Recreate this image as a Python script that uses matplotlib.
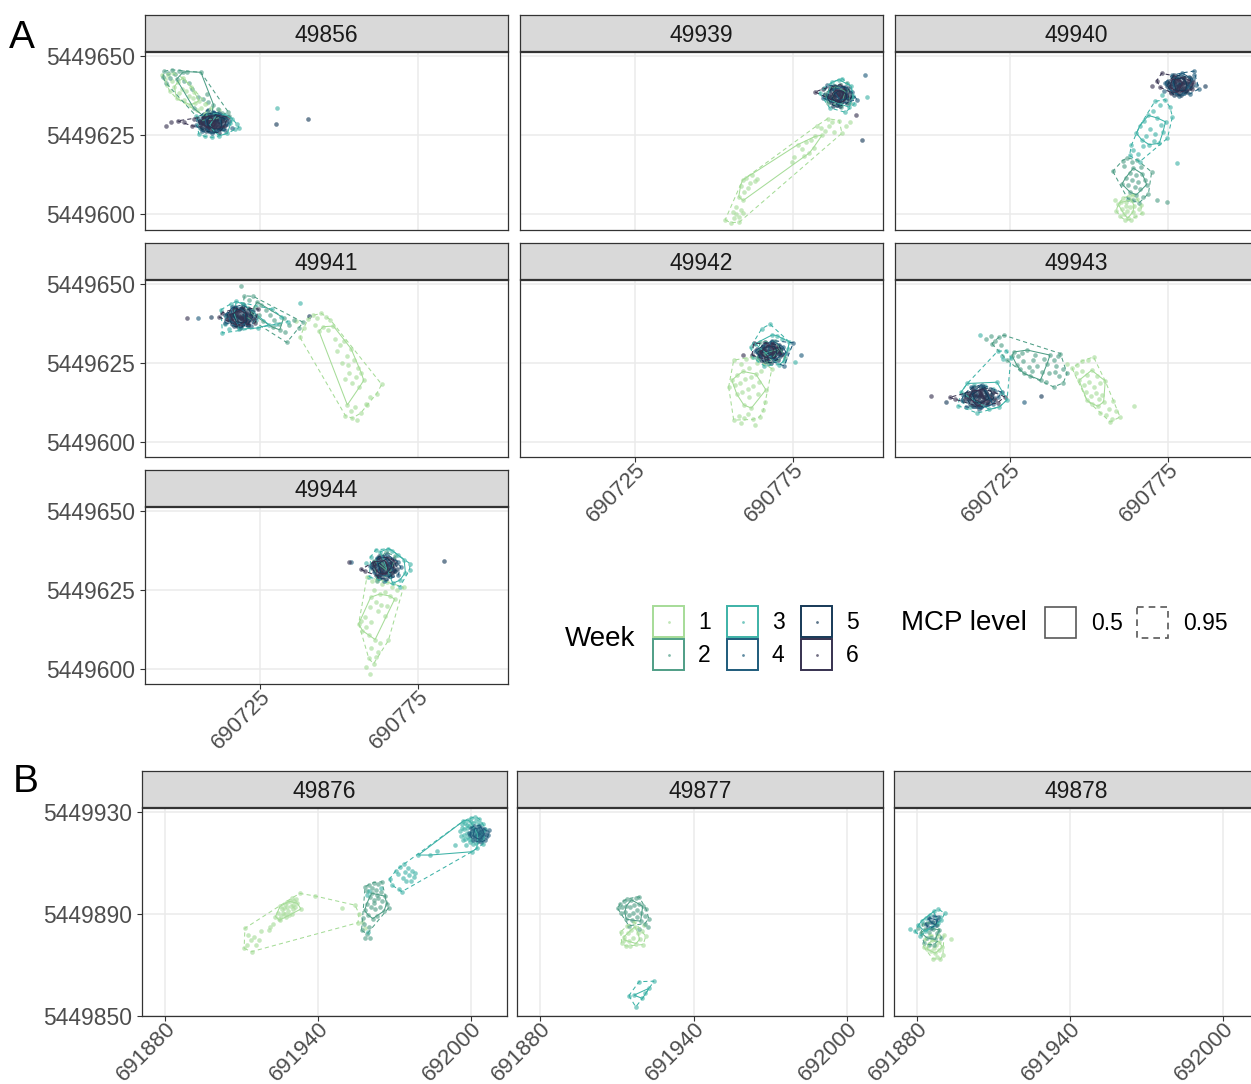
import numpy as np
import matplotlib
matplotlib.use("Agg")
import matplotlib.pyplot as plt
from matplotlib.patches import Rectangle, Polygon

plt.rcParams["font.family"] = ["Liberation Sans", "DejaVu Sans"]

FIG_W, FIG_H = 1251, 1084

WEEKS = [1, 2, 3, 4, 5, 6]
WEEK_COLORS = ["#a6dc98", "#4f9e86", "#3db2a7", "#1e5b7b", "#163957", "#36314f"]
MCP_LEVELS = [0.5, 0.95]

# Fixes are stored as metre offsets from a local origin (UTM easting, northing)
ORIGIN_A = (690700, 5449600)
ORIGIN_B = (691900, 5449850)

# ---------------------------------------------------------------- group A
f49856_w1 = [(-6.0,44.0),(-5.2,42.6),(-4.1,43.8),(-3.0,42.1),(-4.6,40.9),(-2.2,40.3),(-1.0,41.8),(0.2,39.6),
             (-0.8,38.2),(1.4,38.9),(2.5,37.4),(1.0,36.2),(3.6,36.8),(4.4,35.1),(2.8,34.6),(5.6,35.9),(6.3,33.7),
             (7.5,34.8),(8.1,32.6),(9.4,33.4),(10.6,31.8),(5.0,32.9),(3.2,40.2),(0.5,43.0),(-2.6,44.6),(-3.7,38.9),
             (6.8,31.5),(11.8,33.0),(-1.5,36.6),(4.0,38.5)]
f49856_w2 = [(-5.5,45.1),(-4.2,44.5),(-3.1,45.6),(-2.0,44.2),(-0.8,45.3),(0.5,44.8),(1.8,45.0),(-5.8,43.2),
             (-3.6,42.9),(-1.5,42.6),(0.9,42.0),(-4.9,41.5),(2.5,41.3),(3.4,39.4),(5.2,37.0),(6.9,36.4),(8.6,35.5),
             (10.2,34.6),(11.5,33.2),(12.8,31.9),(13.9,30.6),(14.8,32.4),(9.7,32.1),(7.3,30.8),(11.2,30.2),(8.0,38.0),
             (6.2,44.8),(15.2,31.0),(4.0,33.4),(6.0,29.6)]
f49856_w3 = [(4.8,30.9),(6.0,27.2),(5.5,25.4),(7.4,24.6),(9.8,24.3),(12.1,24.8),(14.6,25.6),(16.9,26.8),
             (17.6,28.4),(16.2,30.2),(14.0,31.4),(11.5,31.8),(8.3,31.6),(13.2,27.0),(10.4,26.2),(15.5,28.9),
             (7.0,29.0),(18.3,27.4),(12.8,29.8),(9.0,28.2),(30.4,33.7)]
f49856_w4 = [(8.8,28.9),(10.9,29.4),(7.6,29.8),(12.3,28.6),(9.6,31.0),(6.2,28.8),(13.6,30.8),(11.2,26.5),
             (8.1,26.8),(14.6,28.4),(5.2,30.4),(10.1,32.2),(7.3,31.7),(12.9,27.2),(9.7,25.6),(6.6,26.2),(13.9,26.6),
             (15.2,29.6),(4.6,28.1),(11.8,32.0),(8.4,33.0),(16.0,27.4)]
f49856_w5 = [(9.5,28.8),(8.2,29.5),(10.8,28.1),(7.1,28.4),(11.9,29.3),(9.0,30.6),(10.2,27.0),(6.4,29.9),
             (12.8,28.0),(8.6,27.3),(11.1,30.2),(7.5,30.9),(9.9,29.8),(13.3,29.5),(5.8,28.3),(8.9,26.4),(10.6,31.2),
             (12.2,26.9),(7.0,27.0),(11.6,27.7),(8.0,31.5),(9.4,27.8),(6.8,30.6),(12.6,30.6),(10.0,26.3),(5.5,29.6),
             (13.8,28.2),(8.4,28.2),(10.4,29.1),(7.8,26.2),(11.4,31.4),(14.2,29.9),(6.1,27.2),(9.2,31.8),(12.0,25.8),
             (9.7,29.4),(8.5,28.6),(10.9,29.7),(7.9,29.9),(11.3,28.5),(9.1,28.0),(10.5,27.7),(8.7,30.3),(12.4,29.1),
             (6.9,28.9),(13.1,30.3),(7.6,27.5),(30.1,28.6),(40.1,30.0)]
f49856_w6 = [(-4.9,27.9),(-3.3,29.2),(-1.2,29.5),(3.5,27.9),(4.1,30.0),(1.0,29.0),(9.0,29.6),(10.6,28.0),
             (7.9,28.1),(11.7,30.4),(14.8,30.6),(12.4,27.3),(8.6,29.2),(10.2,28.4),(9.8,30.2),(7.4,29.4),(11.0,29.0),
             (8.2,27.6),(12.0,28.6),(9.2,27.2),(10.8,30.8),(6.6,28.6),(13.0,29.4),(8.8,31.0),(11.6,27.2),(7.2,30.4),
             (10.0,29.4),(9.4,28.2),(12.6,31.2),(6.0,29.2),(13.6,27.8),(8.0,30.0)]

f49939_w1 = [(53.5,-1.7),(55.2,-2.6),(56.4,-1.2),(57.0,0.2),(57.9,-0.9),(58.4,1.4),(56.8,2.3),(59.1,0.5),
             (58.0,-2.4),(55.9,0.8),(59.0,10.8),(60.2,11.6),(61.4,9.8),(62.8,10.4),(60.6,8.4),(59.6,7.2),
             (63.7,11.2),(58.4,9.1),(61.9,12.3),(57.8,5.6),(59.2,4.4),(76.5,22.0),(77.8,20.6),(79.0,22.8),
             (80.2,19.4),(78.4,18.3),(81.5,21.1),(75.4,18.0),(74.6,16.5),(80.8,23.6),(82.6,28.0),(83.9,27.3),
             (85.1,26.4),(84.2,25.0),(86.5,27.8),(82.0,24.6),(88.0,26.0),(87.2,29.0),(89.6,29.6),(91.8,27.9),
             (90.5,25.6),(92.9,29.0),(86.0,30.2)]
f49939_w2 = [(86.0,35.2),(91.5,38.8),(88.2,40.6),(93.0,35.0),(85.0,38.0),(90.2,34.0),(87.5,37.2),(92.2,41.5)]
f49939_w3 = [(84.8,39.8),(94.0,37.4),(89.6,42.5),(86.6,33.6),(91.0,36.2),(93.4,40.4),(88.0,35.6),(92.8,33.8),
             (85.6,36.4),(90.6,42.8),(87.2,41.6),(94.4,34.8),(91.6,32.2),(83.4,38.2),(98.5,36.9)]
f49939_w4 = [(97.7,43.8),(88.4,38.6),(90.8,37.8),(86.8,36.0),(92.5,36.6),(89.0,34.6),(85.8,40.8),(93.6,38.6),
             (87.6,39.4),(91.4,40.2),(84.4,36.8),(95.2,36.2),(89.8,36.0),(91.8,39.4)]
f49939_w5 = [(89.5,37.2),(88.2,38.1),(90.8,36.4),(87.0,37.0),(91.9,37.8),(89.0,39.4),(90.2,35.3),(86.4,38.6),
             (92.8,36.3),(88.5,35.8),(91.1,39.0),(87.6,39.8),(89.9,38.6),(93.2,38.2),(85.8,36.6),(88.8,34.5),
             (90.6,40.3),(92.1,35.0),(87.0,35.4),(91.6,36.9),(88.0,40.6),(89.4,36.2),(86.8,39.2),(92.5,39.7),
             (90.0,34.2),(85.6,37.8),(93.6,37.0),(88.4,37.0),(90.4,37.9),(87.8,34.3),(89.2,37.8),(90.1,36.6),
             (88.0,37.4),(91.2,38.2),(89.6,39.0),(87.3,36.4),(92.0,36.6),(88.9,35.6),(90.7,38.8),(86.2,37.4),
             (96.7,23.4)]
f49939_w6 = [(82.0,38.6),(95.1,31.3),(84.6,39.6),(89.2,38.0),(91.2,38.4),(87.4,36.2),(90.0,40.9),(89.0,37.6),
             (90.4,36.8),(88.0,36.6),(91.6,37.4),(89.8,38.8),(88.6,39.2),(90.8,35.6),(87.4,38.0),(92.2,38.6),
             (89.2,35.4),(86.4,37.2),(91.0,40.0),(88.4,38.4),(90.2,37.2),(87.8,35.8),(92.6,37.0),(89.6,36.0),
             (86.8,39.8)]

f49940_w1 = [(59.2,3.2),(60.4,1.8),(61.6,3.9),(62.8,2.4),(63.9,0.8),(61.0,0.2),(59.8,-0.6),(62.2,-1.2),
             (64.6,-0.4),(65.8,1.6),(63.4,4.6),(60.8,5.2),(58.6,1.2),(66.4,3.0),(62.0,1.2),(64.2,2.8),(61.4,-1.8),
             (63.2,-1.6),(65.2,4.8),(60.0,3.8),(62.6,5.8),(58.2,4.4),(64.0,6.2),(66.8,0.4),(61.8,2.6)]
f49940_w2 = [(62.0,17.8),(63.5,16.4),(65.2,17.2),(61.2,15.2),(64.0,14.6),(66.4,15.0),(62.8,13.0),(64.8,12.4),
             (66.8,12.8),(61.6,11.6),(63.6,10.8),(65.6,10.2),(67.6,11.0),(62.4,9.2),(64.4,8.6),(66.2,8.0),
             (68.2,9.4),(63.0,7.0),(65.0,6.2),(67.0,5.4),(63.8,4.6),(65.8,3.6),(62.2,5.0),(68.8,6.6),(60.4,9.6),
             (69.8,13.4),(57.5,13.6),(74.8,3.8),(71.4,4.6),(60.6,17.0)]
f49940_w3 = [(66.0,27.8),(67.4,29.6),(68.8,31.2),(70.2,32.6),(71.6,30.4),(72.8,28.2),(74.2,29.2),(73.4,26.0),
             (71.0,25.4),(69.4,27.0),(68.0,24.8),(66.6,23.6),(70.4,23.0),(72.2,22.4),(74.8,24.0),(67.2,21.6),
             (65.0,25.6),(64.0,20.4),(62.8,18.6),(65.4,19.0),(63.4,21.8),(66.0,16.6),(72.6,34.6),(74.0,36.2),
             (75.6,33.8),(73.0,37.6),(76.4,30.8),(77.7,16.1),(70.8,35.6),(69.0,22.0)]
f49940_w4 = [(78.0,41.2),(80.2,41.8),(76.5,42.2),(81.4,40.2),(78.8,43.6),(75.2,39.6),(82.8,42.6),(80.0,38.4),
             (77.0,38.8),(83.8,40.8),(74.0,41.4),(79.4,44.6),(76.2,43.8),(82.0,38.0),(78.6,37.4),(73.8,39.0),
             (83.2,44.0),(84.8,39.6),(83.2,45.2)]
f49940_w5 = [(78.5,40.8),(77.2,41.6),(79.8,40.0),(76.0,40.4),(80.9,41.3),(78.0,42.6),(79.2,39.0),(75.4,42.0),
             (81.8,39.8),(77.5,39.2),(80.1,42.7),(76.6,43.0),(78.9,41.9),(82.2,41.8),(74.8,40.6),(77.8,38.0),
             (79.6,43.4),(81.1,38.6),(76.0,38.6),(80.6,40.5),(77.0,44.0),(78.4,39.8),(75.8,41.2),(81.5,43.2),
             (79.0,37.6),(74.6,41.8),(82.6,40.4),(77.4,40.6),(79.4,41.1),(76.8,37.8),(78.8,41.0),(77.6,40.2),
             (80.0,41.6),(76.8,41.8),(79.4,39.6),(81.4,41.0),(77.4,43.0),(80.6,39.0),(75.2,41.0),(82.0,43.0),
             (86.7,40.4)]
f49940_w6 = [(73.0,44.5),(69.8,40.4),(72.5,40.1),(71.4,42.2),(79.0,40.4),(77.6,42.0),(80.8,39.2),(76.4,39.6),
             (82.0,41.0),(78.2,38.6),(78.0,40.6),(79.6,41.4),(77.0,41.0),(80.4,40.0),(78.6,42.4),(76.4,42.6),
             (81.2,42.0),(79.8,38.8),(77.2,39.2),(82.6,39.4),(75.6,40.2),(80.0,43.0),(78.2,39.6),(83.0,41.6),
             (76.0,38.4)]

f49941_w1 = [(40.2,38.8),(41.6,40.0),(43.0,39.2),(44.4,40.6),(45.8,39.4),(47.2,38.6),(42.2,37.0),(45.0,36.4),
             (46.6,35.2),(48.2,36.6),(43.6,35.0),(48.6,32.4),(50.2,30.6),(51.6,31.8),(49.4,28.6),(52.4,27.2),
             (53.8,29.4),(50.8,25.0),(52.8,24.2),(54.6,26.0),(56.0,23.4),(53.2,21.6),(55.2,20.4),(57.0,21.8),
             (54.0,18.6),(56.4,17.2),(57.8,19.4),(51.8,19.8),(52.6,11.6),(53.8,9.8),(55.0,11.0),(54.2,7.4),
             (52.0,8.2),(56.8,9.0),(58.6,11.8),(55.6,6.8),(63.5,18.1),(61.9,15.2),(59.8,14.2),(58.8,11.5),
             (36.4,38.2),(37.6,33.0),(38.8,36.0)]
f49941_w2 = [(18.8,49.3),(20.0,46.2),(21.4,45.0),(22.8,46.0),(24.0,44.2),(19.6,43.6),(21.0,42.4),(23.2,42.8),
             (25.4,43.4),(26.8,41.6),(28.2,40.2),(29.4,38.6),(30.8,37.4),(24.6,40.2),(22.2,40.6),(20.2,39.8),
             (32.4,39.2),(34.0,36.8),(35.6,38.4),(37.2,36.0),(33.0,34.6),(31.2,35.4),(38.6,37.8),(29.0,36.2),
             (26.0,38.2),(33.4,31.4)]
f49941_w3 = [(12.6,41.8),(13.8,37.2),(15.6,43.6),(17.4,44.4),(19.8,43.4),(22.4,41.4),(23.8,38.4),(21.2,36.6),
             (18.2,35.6),(15.0,35.8),(14.2,39.8),(16.8,40.4),(20.6,38.8),(37.7,44.0),(31.6,39.6),(27.8,37.0),
             (13.0,34.4),(24.2,36.0),(28.6,42.0),(33.8,38.0),(29.9,37.4)]
f49941_w4 = [(18.0,39.9),(20.2,40.5),(16.5,40.9),(21.4,38.9),(18.8,42.3),(15.2,38.3),(22.8,41.3),(20.0,37.1),
             (17.0,37.5),(23.8,39.5),(14.0,40.1),(19.4,43.3),(16.2,42.5),(22.0,36.7),(18.6,36.1),(13.8,37.7),
             (5.3,39.0)]
f49941_w5 = [(18.5,39.5),(17.2,40.3),(19.8,38.7),(16.0,39.1),(20.9,40.0),(18.0,41.3),(19.2,37.7),(15.4,40.7),
             (21.8,38.5),(17.5,37.9),(20.1,41.4),(16.6,41.7),(18.9,40.6),(22.2,40.5),(14.8,39.3),(17.8,36.7),
             (19.6,42.1),(21.1,37.3),(16.0,37.3),(20.6,39.2),(17.0,42.7),(18.4,38.5),(15.8,39.9),(21.5,41.9),
             (19.0,36.3),(14.6,40.5),(22.6,39.1),(17.4,39.3),(19.4,39.8),(16.8,36.5),(18.8,39.2),(17.6,39.6),
             (20.0,40.2),(16.4,40.2),(19.6,38.4),(21.4,40.8),(17.6,41.8),(20.6,37.8),(15.6,38.4),(22.0,39.8),
             (40.4,39.7),(9.5,39.5)]
f49941_w6 = [(1.7,39.3),(11.9,39.5),(13.0,40.8),(24.4,42.0),(19.0,39.0),(17.6,41.0),(20.8,38.0),(23.4,37.6),
             (18.2,39.8),(19.6,39.2),(17.0,40.0),(20.4,40.6),(18.6,41.6),(16.2,38.6),(21.6,39.6),(19.8,37.8),
             (17.4,38.2),(22.4,41.0),(15.4,40.2),(19.2,42.4),(17.8,36.8),(21.0,37.0),(16.6,42.0),(20.2,38.6),
             (14.6,38.8),(23.0,38.4)]

f49942_w1 = [(56.2,25.8),(58.4,24.6),(60.2,26.2),(62.0,26.8),(63.6,25.0),(61.2,23.4),(59.2,22.2),(57.4,21.0),
             (55.6,19.4),(54.6,17.3),(56.6,17.8),(58.2,18.6),(59.8,19.8),(61.6,20.6),(63.2,21.4),(65.0,22.4),
             (68.3,23.1),(60.6,16.8),(62.4,17.6),(64.2,18.8),(58.8,15.6),(57.2,15.0),(61.0,14.2),(63.8,15.0),
             (66.4,16.4),(65.6,9.9),(63.0,5.2),(56.2,6.8),(57.8,8.2),(59.4,7.4),(60.8,8.8),(62.2,7.0),(58.6,5.8),
             (64.4,7.8),(66.2,12.6),(59.4,11.6),(61.8,10.6)]
f49942_w2 = [(66.0,28.0),(68.0,27.0),(63.6,26.6),(70.8,29.4),(64.6,31.6),(67.0,24.6),(72.6,26.6),(69.4,31.8)]
f49942_w3 = [(65.1,35.8),(67.7,37.2),(75.6,25.3),(63.0,31.0),(71.6,32.4),(73.4,29.4),(72.0,25.4),(65.8,24.0),
             (69.8,33.6),(64.0,25.8),(62.2,26.8),(73.8,31.6),(70.6,24.4),(68.4,33.8),(61.6,30.0)]
f49942_w4 = [(67.0,28.6),(69.2,29.2),(65.5,29.6),(70.4,27.6),(67.8,31.0),(64.2,27.0),(71.8,30.0),(69.0,25.8),
             (66.0,26.2),(72.8,28.2),(63.0,28.8),(68.4,32.0),(75.1,31.3),(72.2,24.0),(77.5,27.4)]
f49942_w5 = [(67.5,28.2),(66.2,29.0),(68.8,27.4),(65.0,27.8),(69.9,28.7),(67.0,30.0),(68.2,26.4),(64.4,29.4),
             (70.8,27.2),(66.5,26.6),(69.1,30.1),(65.6,30.4),(67.9,29.3),(71.2,29.2),(63.8,28.0),(66.8,25.4),
             (68.6,30.8),(70.1,26.0),(65.0,26.0),(69.6,27.9),(66.0,31.4),(67.4,27.2),(64.8,28.6),(70.5,30.6),
             (68.0,25.0),(63.6,29.2),(71.6,27.8),(66.4,28.0),(68.4,28.5),(65.8,25.2),(67.8,28.6),(66.6,28.0),
             (69.0,28.4),(65.8,29.6),(68.4,27.0),(70.2,29.6),(66.2,30.8),(69.4,26.6),(64.6,27.2),(71.0,28.6)]
f49942_w6 = [(62.5,31.1),(62.0,27.4),(59.3,27.4),(66.6,27.6),(68.8,29.6),(70.2,28.4),(65.4,28.8),(67.2,30.6),
             (67.2,28.4),(68.6,28.0),(66.0,28.8),(69.4,29.0),(67.6,30.2),(65.4,27.2),(70.6,28.8),(68.8,26.8),
             (66.4,26.6),(71.4,27.6),(64.6,28.4),(68.2,31.2),(66.8,25.8),(69.6,30.4)]

f49943_w1 = [(43.0,24.7),(44.6,23.2),(46.2,24.4),(47.8,25.6),(49.6,26.0),(51.4,26.8),(45.8,21.6),(47.6,22.2),
             (49.2,21.0),(50.8,22.6),(52.4,20.8),(46.8,19.4),(48.4,18.0),(50.0,19.0),(51.6,17.2),(53.4,18.4),
             (55.1,19.2),(49.0,15.6),(50.6,14.4),(52.2,15.4),(54.0,14.6),(51.0,12.0),(52.8,11.2),(54.6,12.6),
             (56.2,10.4),(53.6,9.2),(55.4,8.4),(57.2,7.0),(59.8,7.8),(56.7,6.2),(58.4,9.8),(64.1,11.2),(57.6,12.8),
             (49.3,13.1),(53.0,13.6)]
f49943_w2 = [(17.4,32.6),(18.8,33.4),(20.2,32.0),(21.6,33.2),(23.0,33.7),(19.2,31.0),(22.0,30.6),(24.0,25.8),
             (25.6,27.2),(26.2,28.4),(27.6,27.0),(28.8,28.2),(30.4,29.0),(29.2,25.6),(27.0,24.4),(29.3,21.6),
             (30.8,23.6),(32.2,25.8),(33.6,24.0),(32.0,22.2),(35.1,22.1),(34.6,19.5),(36.7,24.7),(35.6,26.2),
             (37.6,27.4),(38.8,26.0),(40.2,27.0),(40.9,27.9),(39.6,24.0),(41.6,23.0),(43.0,21.6),(40.4,20.8),
             (38.8,17.3),(37.2,21.6),(41.8,18.6),(39.2,22.0),(33.0,27.4),(31.4,20.8),(36.2,18.8),(28.0,23.0)]
f49943_w3 = [(15.4,33.9),(21.0,28.6),(22.4,27.0),(23.8,28.8),(25.2,26.6),(22.6,26.2),(11.4,18.4),(13.6,18.0),
             (17.0,17.6),(19.6,16.6),(22.0,15.4),(21.6,11.0),(18.4,10.2),(12.4,10.8),(10.0,13.0),(9.4,15.6),
             (24.0,13.2),(8.4,11.4),(14.6,9.0),(20.8,18.8)]
f49943_w4 = [(14.8,14.6),(17.2,15.2),(13.0,15.6),(18.6,13.6),(15.6,17.0),(11.6,13.0),(20.2,16.0),(17.0,11.8),
             (13.6,12.2),(21.2,14.2),(10.2,14.6),(16.0,18.0),(12.6,17.2),(19.4,11.8),(15.2,10.4),(9.6,13.2),
             (22.4,15.6),(11.0,11.0),(29.3,12.6)]
f49943_w5 = [(15.2,14.2),(13.8,15.0),(16.6,13.4),(12.4,13.8),(17.8,14.7),(14.6,16.0),(16.0,12.4),(11.8,15.4),
             (18.8,13.2),(14.2,12.6),(16.9,16.1),(13.2,16.4),(15.6,15.3),(19.2,15.2),(11.0,14.0),(14.4,11.4),
             (16.4,16.8),(18.0,12.0),(12.2,12.0),(17.4,13.9),(13.6,17.4),(15.0,13.2),(12.6,14.6),(18.5,16.6),
             (15.8,11.0),(10.6,15.2),(19.8,13.8),(14.0,14.0),(16.2,14.5),(13.2,11.2),(15.4,14.6),(14.2,14.4),
             (16.8,14.0),(13.0,15.0),(17.2,15.6),(15.0,12.2),(18.2,13.6),(12.0,13.4),(16.4,17.2),(19.0,14.6),
             (34.6,14.5),(4.6,12.6)]
f49943_w6 = [(-0.2,14.5),(5.8,14.0),(7.6,13.4),(23.2,14.2),(21.0,12.2),(15.4,15.8),(17.2,13.0),(12.0,14.2),
             (14.4,12.8),(15.0,14.4),(16.4,14.0),(13.6,14.8),(17.6,15.0),(15.4,16.2),(12.8,13.2),(18.6,14.2),
             (16.2,12.6),(14.0,12.8),(19.4,15.8),(11.6,14.8),(16.8,16.6),(13.2,16.0),(18.0,12.4),(14.6,11.2),
             (20.2,13.2),(10.8,13.6),(15.8,15.2)]

f49944_w1 = [(58.8,29.0),(60.4,27.6),(62.0,28.2),(63.6,26.8),(65.2,27.4),(66.8,26.0),(68.4,24.8),(70.4,25.8),
             (61.2,25.0),(62.8,23.6),(64.4,24.4),(66.0,23.0),(67.6,22.0),(60.0,22.6),(61.6,21.2),(63.4,20.2),
             (65.2,19.8),(59.8,19.4),(62.2,18.2),(64.6,16.8),(58.2,16.4),(56.8,15.0),(56.2,14.2),(58.6,13.2),
             (60.2,14.8),(57.4,12.0),(59.6,10.6),(61.4,9.2),(63.0,8.0),(65.6,8.9),(60.2,6.4),(62.4,5.2),
             (59.4,3.2),(60.9,1.5),(59.8,-1.7),(58.6,0.6),(61.8,3.8)]
f49944_w2 = [(63.4,33.6),(66.2,30.2),(61.0,34.2),(67.8,35.6),(62.0,27.6),(65.0,36.8)]
f49944_w3 = [(72.5,33.2),(72.3,31.3),(69.3,26.0),(66.8,37.4),(68.6,36.0),(63.0,37.0),(60.0,35.4),(58.4,33.6),
             (69.2,28.0),(67.0,27.0),(59.6,29.0),(70.6,34.4),(61.6,37.6),(65.6,38.0),(71.0,30.4)]
f49944_w4 = [(63.7,32.4),(65.9,33.0),(62.2,33.6),(67.1,31.4),(64.5,35.2),(60.9,30.6),(68.5,33.9),(65.7,29.2),
             (62.7,29.8),(69.5,32.2),(59.7,32.6),(65.1,36.2),(61.9,35.0),(68.7,29.6),(64.3,27.6),(53.8,33.9)]
f49944_w5 = [(64.2,32.0),(62.9,32.9),(65.5,31.1),(61.7,31.6),(66.6,32.5),(63.7,34.0),(64.9,30.0),(61.1,33.5),
             (67.5,30.8),(63.2,30.3),(65.8,34.1),(62.3,34.5),(64.6,33.2),(67.9,33.1),(60.5,31.8),(63.5,28.9),
             (65.3,34.9),(66.8,29.6),(61.7,29.6),(66.3,31.8),(62.7,35.6),(64.1,31.0),(61.5,32.5),(67.2,34.7),
             (64.7,28.4),(60.3,33.2),(68.3,31.6),(63.1,32.0),(65.1,32.3),(62.5,28.6),(64.4,32.4),(63.2,31.4),
             (65.6,32.8),(62.4,33.2),(64.0,30.6),(66.8,33.6),(63.0,35.0),(66.0,29.4),(61.0,32.4),(67.6,31.0),
             (83.2,34.2)]
f49944_w6 = [(53.0,33.9),(57.0,31.4),(60.9,33.2),(58.2,30.8),(62.6,31.2),(64.8,33.6),(66.4,33.4),(63.4,30.6),
             (64.0,32.2),(65.4,31.6),(62.6,32.8),(66.2,33.0),(64.4,34.2),(61.8,31.0),(67.0,32.0),(65.0,30.2),
             (63.0,30.0),(67.6,34.0),(61.2,33.8),(65.8,35.0),(63.6,35.4),(66.8,30.6),(62.2,29.4)]

# ---------------------------------------------------------------- group B
f49876_w1 = [(10.9,26.5),(11.2,34.4),(12.4,31.6),(13.6,29.8),(14.8,31.0),(13.8,25.2),(15.6,27.8),(16.8,29.6),
             (12.0,27.8),(17.6,33.2),(20.6,33.8),(22.4,36.2),(23.2,39.0),(24.8,37.6),(26.2,40.4),(25.0,43.0),
             (27.6,42.6),(28.8,45.0),(30.2,43.4),(31.4,46.0),(32.8,48.1),(29.6,40.2),(27.2,38.8),(33.2,42.0),
             (38.7,47.1),(49.2,42.2),(54.4,43.5),(56.0,40.2),(57.2,37.0),(58.4,34.4),(55.6,36.6),(21.2,35.0),
             (24.0,40.6),(25.6,41.8),(26.8,43.8),(28.0,41.2),(29.2,43.0),(30.6,45.0),(27.0,40.0),(25.2,39.2),
             (28.6,39.6),(30.0,41.8),(31.8,44.2),(26.4,42.4),(29.8,46.4),(24.4,38.2),(27.8,44.6),(31.0,42.6)]
f49876_w2 = [(58.4,50.8),(60.0,51.6),(61.8,52.4),(63.6,51.8),(64.9,52.7),(59.2,49.0),(61.0,48.2),(62.8,49.4),
             (64.6,48.6),(66.2,47.0),(60.2,46.6),(61.8,45.4),(63.4,46.4),(65.0,45.0),(66.8,44.0),(67.6,42.4),
             (59.0,44.0),(60.6,42.8),(62.4,42.0),(64.2,42.8),(65.8,41.2),(58.2,41.4),(57.4,38.6),(59.6,39.6),
             (61.4,38.2),(63.0,39.4),(58.0,36.0),(59.8,34.8),(57.0,33.6),(59.2,32.2),(60.4,30.6),(58.4,30.4),
             (62.0,44.2),(63.2,47.6),(61.0,50.2)]
f49876_w3 = [(72.0,58.4),(73.6,59.6),(75.2,58.2),(76.8,57.0),(74.0,56.4),(75.6,55.2),(77.4,54.6),(73.2,54.0),
             (71.4,55.8),(76.4,52.8),(74.6,53.0),(70.4,57.0),(78.0,56.2),(68.9,51.4),(72.8,48.8),(71.6,49.8),
             (79.3,63.2),(83.9,63.2),(86.6,64.6),(93.8,67.1),(96.6,75.4),(98.2,73.8),(99.8,76.2),(101.6,78.3),
             (97.4,71.2),(99.0,69.6),(100.6,67.4),(102.2,65.8),(98.0,67.0),(96.8,69.0),(103.8,70.2),(104.6,75.4),
             (102.8,73.0),(100.3,64.5),(60.0,49.0),(59.2,47.4),(104.8,67.6),(95.6,72.6),(64.6,50.2),(68.0,53.8),
             (59.6,33.0),(98.4,75.0),(100.2,74.4),(101.8,76.6),(103.2,77.4),(97.2,73.4),(99.4,72.0),(101.0,71.2),
             (102.6,69.2),(104.0,72.2),(98.6,70.2),(100.4,69.0),(105.6,73.6),(97.0,76.6),(99.8,77.6),(103.4,75.8),
             (96.2,70.6),(99.0,74.6),(101.4,73.2),(102.8,75.0),(98.2,71.8),(100.6,72.6),(97.8,69.4),(101.8,68.0),
             (103.6,71.4),(99.6,68.4),(104.4,69.2),(96.4,73.8),(100.8,75.8),(98.8,77.0),(102.4,71.6),(97.6,75.8)]
f49876_w4 = [(103.0,71.1),(101.8,72.0),(104.2,70.4),(100.8,70.8),(105.2,71.6),(102.6,73.0),(103.6,69.4),
             (100.2,72.6),(106.0,70.2),(102.2,69.8),(104.4,72.8),(101.4,73.6),(103.4,72.2),(106.4,72.4),
             (99.6,71.0),(102.8,68.6),(104.0,74.0),(105.4,69.0),(100.8,69.0),(105.0,73.6),(101.2,74.6),
             (102.6,71.4),(100.0,73.8),(106.8,71.0),(103.8,68.2),(99.2,72.0),(107.2,73.0),(104.8,71.0),
             (101.6,70.4),(103.2,74.8)]

f49877_w1 = [(11.4,33.0),(12.6,31.0),(11.8,28.6),(13.4,27.4),(14.8,29.2),(16.2,30.6),(17.4,28.4),(18.8,30.0),
             (20.2,28.0),(21.2,31.2),(15.6,33.8),(13.8,35.2),(17.0,35.0),(19.6,33.4),(12.8,29.8),(15.0,27.6),
             (18.2,32.4),(20.6,35.8),(16.6,37.0),(14.2,32.4)]
f49877_w2 = [(11.2,44.0),(12.6,45.2),(14.0,46.0),(15.6,45.6),(17.2,46.2),(18.6,46.8),(10.2,42.2),(12.0,42.6),
             (13.6,43.2),(15.2,42.8),(16.8,43.6),(18.4,44.0),(20.0,43.0),(21.4,41.8),(11.4,40.4),(13.0,40.8),
             (14.6,39.6),(16.2,40.4),(17.8,41.4),(19.4,40.6),(21.0,39.4),(22.4,38.2),(13.6,38.0),(15.8,37.6),
             (17.6,38.8),(19.2,37.2),(20.8,36.2),(22.2,35.0),(14.6,35.4),(18.4,34.0)]
f49877_w3 = [(18.6,13.4),(24.4,13.6),(22.5,10.8),(14.6,7.9),(16.6,8.1),(17.3,3.5),(19.9,6.8),(21.0,9.0)]

f49878_w1 = [(-17.0,30.0),(-15.6,28.4),(-14.2,29.6),(-12.8,27.8),(-11.4,29.0),(-10.2,27.0),(-16.2,26.2),
             (-14.6,25.4),(-13.0,24.6),(-11.6,25.8),(-12.4,23.0),(-14.0,22.4),(-10.0,24.0),(-6.7,30.2),
             (-15.0,31.6),(-12.2,31.2),(-9.6,31.8),(-17.6,27.2),(-11.0,22.2),(-13.4,26.6)]
f49878_w2 = [(-18.6,32.6),(-17.0,34.0),(-15.4,32.8),(-13.8,34.2),(-12.4,32.6),(-16.2,30.6),(-14.6,30.8),
             (-13.0,30.0),(-11.4,33.8),(-18.0,36.0),(-16.4,36.4),(-14.2,36.8),(-12.2,35.8),(-19.6,34.4),
             (-15.6,28.0),(-10.6,30.6),(-17.4,28.6),(-13.6,28.0)]
f49878_w3 = [(-23.0,34.1),(-21.0,33.2),(-19.6,35.6),(-18.2,37.4),(-16.6,38.6),(-15.0,39.8),(-13.6,41.0),
             (-11.9,42.0),(-9.3,40.3),(-10.6,37.6),(-12.0,36.4),(-14.4,35.0),(-17.2,33.2),(-19.0,31.4),(-11.0,38.8)]
f49878_w4 = [(-16.8,36.2),(-15.4,38.4),(-13.6,39.2),(-12.2,37.6),(-12.8,35.6),(-14.6,34.6),(-16.0,35.0),
             (-13.8,36.8),(-15.0,37.0),(-12.0,39.0)]

IDS_A = ["49856", "49939", "49940", "49941", "49942", "49943", "49944"]
IDS_B = ["49876", "49877", "49878"]
TRACKS = {
    "49856": [f49856_w1, f49856_w2, f49856_w3, f49856_w4, f49856_w5, f49856_w6],
    "49939": [f49939_w1, f49939_w2, f49939_w3, f49939_w4, f49939_w5, f49939_w6],
    "49940": [f49940_w1, f49940_w2, f49940_w3, f49940_w4, f49940_w5, f49940_w6],
    "49941": [f49941_w1, f49941_w2, f49941_w3, f49941_w4, f49941_w5, f49941_w6],
    "49942": [f49942_w1, f49942_w2, f49942_w3, f49942_w4, f49942_w5, f49942_w6],
    "49943": [f49943_w1, f49943_w2, f49943_w3, f49943_w4, f49943_w5, f49943_w6],
    "49944": [f49944_w1, f49944_w2, f49944_w3, f49944_w4, f49944_w5, f49944_w6],
    "49876": [f49876_w1, f49876_w2, f49876_w3, f49876_w4, [], []],
    "49877": [f49877_w1, f49877_w2, f49877_w3, [], [], []],
    "49878": [f49878_w1, f49878_w2, f49878_w3, f49878_w4, [], []],
}

XTICKS_A = [690725, 690775]
YTICKS_A = [5449600, 5449625, 5449650]
XLIM_A = (690688.5, 690803.5)
YLIM_A = (5449595.1, 5449651.2)
XTICKS_B = [691880, 691940, 692000]
YTICKS_B = [5449850, 5449890, 5449930]
XLIM_B = (691870.8, 692014.1)
YLIM_B = (5449849.9, 5449931.7)


def convex_hull(points):
    pts = sorted(set(map(tuple, points)))
    if len(pts) < 3:
        return np.array(pts)

    def cross(o, a, b):
        return (a[0] - o[0]) * (b[1] - o[1]) - (a[1] - o[1]) * (b[0] - o[0])

    lower, upper = [], []
    for p in pts:
        while len(lower) >= 2 and cross(lower[-2], lower[-1], p) <= 0:
            lower.pop()
        lower.append(p)
    for p in reversed(pts):
        while len(upper) >= 2 and cross(upper[-2], upper[-1], p) <= 0:
            upper.pop()
        upper.append(p)
    return np.array(lower[:-1] + upper[:-1])


def mcp(xy, level):
    """Minimum convex polygon of the given share of fixes closest to the centroid."""
    centre = xy.mean(axis=0)
    dist = np.hypot(xy[:, 0] - centre[0], xy[:, 1] - centre[1])
    k = max(3, int(round(level * len(xy))))
    return convex_hull(xy[np.argsort(dist)[:k]])


fig = plt.figure(figsize=(FIG_W / 100, FIG_H / 100), dpi=100)


def px_axes(x0, y0, x1, y1, **kw):
    return fig.add_axes([x0 / FIG_W, 1 - y1 / FIG_H, (x1 - x0) / FIG_W, (y1 - y0) / FIG_H], **kw)


# Overlay in pixel units for the panel tags and the legend
ov = px_axes(0, 0, FIG_W, FIG_H)
ov.set_xlim(0, FIG_W)
ov.set_ylim(FIG_H, 0)
ov.axis("off")


def draw_panel(animal, box, strip, origin, xlim, ylim, xticks, yticks, show_x, show_y):
    ax = px_axes(*box)
    weeks = TRACKS[animal]
    for wk, pts in enumerate(weeks):
        if not pts:
            continue
        xy = np.asarray(pts, float) + np.asarray(origin, float)
        ax.scatter(xy[:, 0], xy[:, 1], s=11, color=WEEK_COLORS[wk], alpha=0.62,
                   linewidths=0, zorder=2 + wk * 0.01)
    for wk, pts in enumerate(weeks):
        if len(pts) < 4:
            continue
        xy = np.asarray(pts, float) + np.asarray(origin, float)
        for level, ls in zip(MCP_LEVELS, ["-", (0, (4, 3))]):
            hull = mcp(xy, level)
            ax.add_patch(Polygon(hull, closed=True, fill=False, edgecolor=WEEK_COLORS[wk],
                                 lw=0.75, linestyle=ls, zorder=3))
    ax.set_xlim(xlim)
    ax.set_ylim(ylim)
    ax.set_xticks(xticks)
    ax.set_xticklabels([str(t) for t in xticks])
    ax.set_yticks(yticks)
    ax.set_yticklabels([str(t) for t in yticks])
    ax.grid(True, color="#ebebeb", lw=1.1)
    ax.set_axisbelow(True)
    for sp in ax.spines.values():
        sp.set_color("#333333")
        sp.set_linewidth(0.9)
    ax.tick_params(axis="both", colors="#333333", length=3.6, width=0.8,
                   labelcolor="#4d4d4d")
    ax.tick_params(axis="y", pad=3.8, labelsize=16.5)
    ax.tick_params(axis="x", pad=-2.2, labelsize=16)
    ax.tick_params(axis="x", bottom=show_x, labelbottom=show_x)
    ax.tick_params(axis="y", left=show_y, labelleft=show_y)
    if show_x:
        plt.setp(ax.get_xticklabels(), rotation=45, ha="right", rotation_mode="anchor")

    sx = px_axes(*strip)
    sx.set_facecolor("#d9d9d9")
    sx.set_xticks([])
    sx.set_yticks([])
    for sp in sx.spines.values():
        sp.set_color("#333333")
        sp.set_linewidth(0.9)
    sx.text(0.5, 0.44, animal, transform=sx.transAxes, ha="center", va="center",
            fontsize=16.5, color="#1a1a1a")
    return ax


# Group A: 3-column facet grid
COLS_A = [(145, 508), (520, 883), (895, 1258)]
ROWS_A = [(15, 52, 230), (243, 280, 457), (470, 507, 684)]
x_axis_panels = {"49944", "49942", "49943"}
for i, animal in enumerate(IDS_A):
    r, c = divmod(i, 3)
    x0, x1 = COLS_A[c]
    st, pt, pb = ROWS_A[r]
    draw_panel(animal, (x0, pt, x1, pb), (x0, st, x1, pt - 1), ORIGIN_A, XLIM_A, YLIM_A,
               XTICKS_A, YTICKS_A, animal in x_axis_panels, c == 0)

# Group B: single row
COLS_B = [(142, 507), (517, 883), (894, 1259)]
for c, animal in enumerate(IDS_B):
    x0, x1 = COLS_B[c]
    draw_panel(animal, (x0, 808, x1, 1016), (x0, 771, x1, 807), ORIGIN_B, XLIM_B, YLIM_B,
               XTICKS_B, YTICKS_B, True, c == 0)

# Panel tags
ov.text(9, 48, "A", fontsize=28, color="black", ha="left", va="baseline")
ov.text(13, 792, "B", fontsize=28, color="black", ha="left", va="baseline")

# Legend: week colours
ov.text(565, 639, "Week", fontsize=20, color="black", ha="left", va="center")
KEY = 31
for i, wk in enumerate(WEEKS):
    col, row = divmod(i, 2)
    kx = 653 + col * 74
    ky = 606 + row * 33
    ov.add_patch(Rectangle((kx, ky), KEY, KEY, fill=False, edgecolor=WEEK_COLORS[i], lw=1.4))
    ov.scatter([kx + KEY / 2], [ky + KEY / 2], s=4, color=WEEK_COLORS[i], alpha=0.7, linewidths=0)
    ov.text(kx + KEY + 14, ky + KEY / 2 + 1, str(wk), fontsize=16.5, color="black",
            ha="left", va="center")

# Legend: MCP levels
ov.text(901, 623, "MCP level", fontsize=20, color="black", ha="left", va="center")
for j, (level, ls) in enumerate(zip(MCP_LEVELS, ["-", (0, (4, 3))])):
    kx = 1045 + j * 92
    ov.add_patch(Rectangle((kx, 607), 31, 31, fill=False, edgecolor="#595959", lw=1.2, linestyle=ls))
    ov.text(kx + 46, 623, str(level), fontsize=16.5, color="black", ha="left", va="center")

fig.savefig("out.png", dpi=100)
